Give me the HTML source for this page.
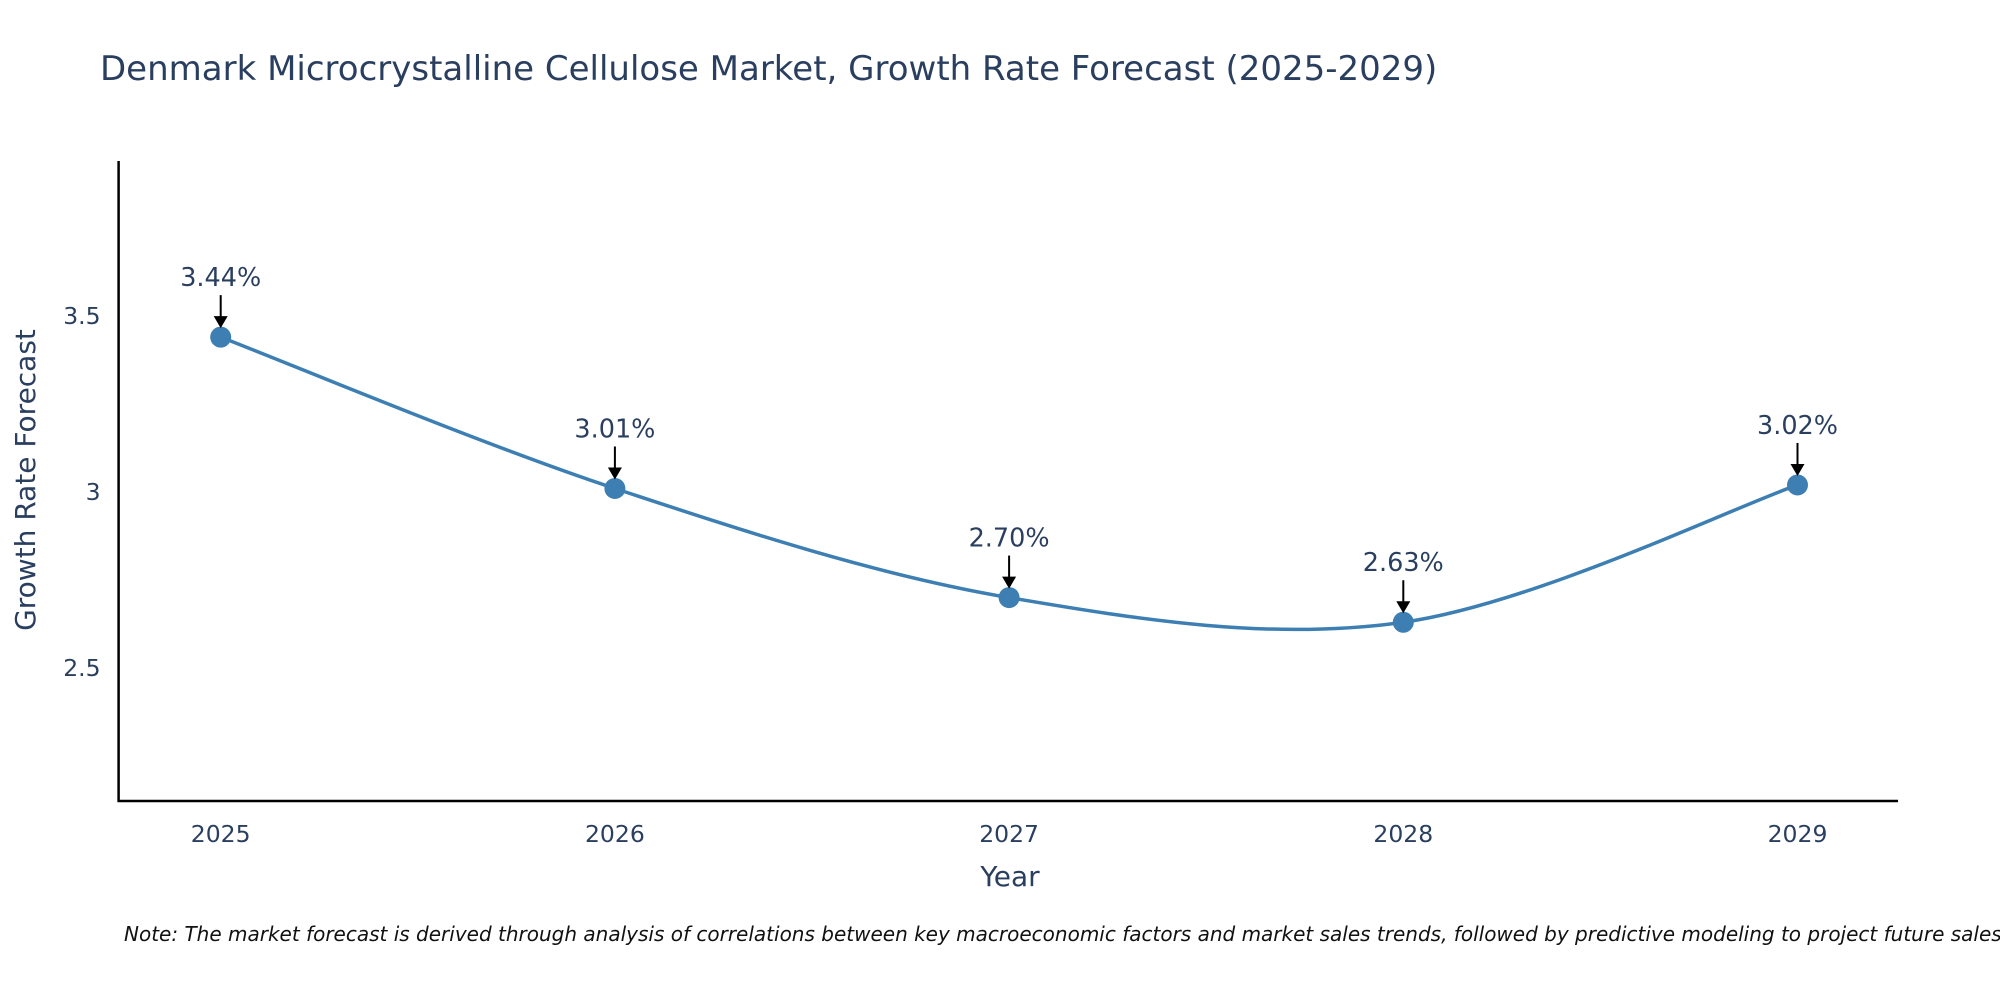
<!DOCTYPE html>
<html><head><meta charset="utf-8"><style>
body{margin:0;background:#fff;overflow:hidden;}
svg text{font-family:"DejaVu Sans","Liberation Sans",sans-serif;fill:#2a3f5f;}
</style></head><body>
<svg id="chart" width="2000" height="1000" viewBox="0 0 2000 1000" xmlns="http://www.w3.org/2000/svg">
<text x="100" y="80" font-size="34">Denmark Microcrystalline Cellulose Market, Growth Rate Forecast (2025-2029)</text>
<g id="plot"></g>
<text transform="translate(35,480) rotate(-90)" text-anchor="middle" font-size="28">Growth Rate Forecast</text>
<text x="1010" y="886" text-anchor="middle" font-size="28">Year</text>
<text x="124" y="941" font-size="20" font-style="italic" style="fill:#111">Note: The market forecast is derived through analysis of correlations between key macroeconomic factors and market sales trends, followed by predictive modeling to project future sales.</text>
</svg>
<script>
const years = [2025, 2026, 2027, 2028, 2029];
const rates = [3.44, 3.01, 2.70, 2.63, 3.02];
const labels = ["3.44%", "3.01%", "2.70%", "2.63%", "3.02%"];
const yTicks = [2.5, 3, 3.5];
const yTickLabels = ["2.5", "3", "3.5"];

const L=118.6,R=1898,T=161,B=801;
const x=v=>220.7+(v-2025)*394.2;
const y=v=>492-(v-3)*352;
const NS="http://www.w3.org/2000/svg";
const g=document.getElementById('plot');
function mk(t,a){const e=document.createElementNS(NS,t);for(const k in a)e.setAttribute(k,a[k]);g.appendChild(e);return e;}

let e=mk('line',{x1:L,y1:T,x2:L,y2:B+1,stroke:'#000','stroke-width':2.5});


e=mk('line',{x1:L-1,y1:B,x2:R,y2:B,stroke:'#000','stroke-width':2.5});



yTicks.forEach((t,i)=>{
  const tx=mk('text',{x:L-18,y:y(t)+8,'text-anchor':'end','font-size':23.5});
  tx.textContent=yTickLabels[i];
  
  
});
years.forEach(yr=>{
  const tx=mk('text',{x:x(yr),y:B+41,'text-anchor':'middle','font-size':23.5});
  tx.textContent=String(yr);
  
  
});

const P=years.map((yr,i)=>[x(yr),y(rates[i])]);
let d=`M${P[0][0]},${P[0][1]}`;
const s=0.5/3*2;
for(let i=0;i<P.length-1;i++){
  const p0=P[Math.max(i-1,0)],p1=P[i],p2=P[i+1],p3=P[Math.min(i+2,P.length-1)];
  const c1=[p1[0]+(p2[0]-p0[0])*s/2,p1[1]+(p2[1]-p0[1])*s/2];
  const c2=[p2[0]-(p3[0]-p1[0])*s/2,p2[1]-(p3[1]-p1[1])*s/2];
  d+=` C${c1[0]},${c1[1]} ${c2[0]},${c2[1]} ${p2[0]},${p2[1]}`;
}
e=mk('path',{d:d,fill:'none',stroke:'#3d7fb3','stroke-width':3.5});



P.forEach((p,i)=>{
  const c=mk('circle',{cx:p[0],cy:p[1],r:10.5,fill:'#3d7fb3'});
  
  
  const a=mk('line',{x1:p[0],y1:p[1]-42,x2:p[0],y2:p[1]-20,stroke:'#000','stroke-width':2});
  
  
  const h=mk('path',{d:`M${p[0]-7},${p[1]-21} L${p[0]+7},${p[1]-21} L${p[0]},${p[1]-9} Z`,fill:'#000'});
  
  
  const t=mk('text',{x:p[0],y:p[1]-51,'text-anchor':'middle','font-size':25.5});
  t.textContent=labels[i];
  
  
});
</script>
</body></html>
